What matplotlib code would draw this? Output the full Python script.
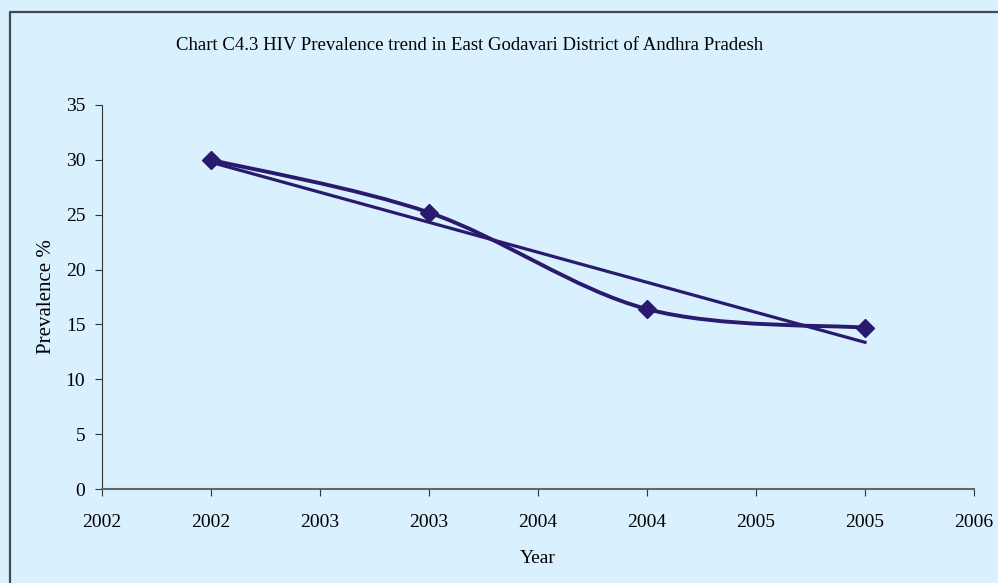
import numpy as np
import matplotlib
matplotlib.use('Agg')
import matplotlib.pyplot as plt
from matplotlib.path import Path
from matplotlib.patches import PathPatch
from matplotlib.lines import Line2D

plt.rcParams['font.family'] = 'Liberation Serif'
plt.rcParams['font.size'] = 12

# ── Data ──────────────────────────────────────────────────────────────────────
years = [2002, 2003, 2004, 2005]
prevalence = [30.0, 25.2, 16.4, 14.7]
xtick_pos = [2001.5, 2002, 2002.5, 2003, 2003.5, 2004, 2004.5, 2005, 2005.5]
xtick_labels = ['2002', '2002', '2003', '2003', '2004', '2004', '2005', '2005', '2006']
yticks = [0, 5, 10, 15, 20, 25, 30, 35]

title = 'Chart C4.3 HIV Prevalence trend in East Godavari District of Andhra Pradesh'
line_col = '#2a1a6e'
bg = '#d9f1ff'

fig = plt.figure(figsize=(9.98, 5.83), dpi=100, facecolor=bg)
ax = fig.add_axes([102/998, 1 - 489/583, (974 - 102)/998, (489 - 105)/583])
ax.set_facecolor(bg)

# smoothed line (Excel-style bezier through the points)
x = np.array(years, dtype=float)
y = np.array(prevalence, dtype=float)
verts = [(x[0], y[0])]
codes = [Path.MOVETO]
n = len(x)
for i in range(n - 1):
    p_prev = np.array([x[max(i - 1, 0)], y[max(i - 1, 0)]])
    p0 = np.array([x[i], y[i]])
    p1 = np.array([x[i + 1], y[i + 1]])
    p_next = np.array([x[min(i + 2, n - 1)], y[min(i + 2, n - 1)]])
    c1 = p0 + (p1 - p_prev) / 6
    c2 = p1 - (p_next - p0) / 6
    verts += [tuple(c1), tuple(c2), tuple(p1)]
    codes += [Path.CURVE4] * 3
ax.add_patch(PathPatch(Path(verts, codes), facecolor='none', edgecolor=line_col,
                       lw=2.8, capstyle='round', joinstyle='round', zorder=3))
ax.plot(years, prevalence, linestyle='none', marker='D', ms=9.5,
        color=line_col, zorder=4)

# linear trend
k, b = np.polyfit(x, y, 1)
ax.plot([x[0], x[-1]], [k * x[0] + b, k * x[-1] + b], color=line_col, lw=2.3, zorder=3)

ax.set_xlim(2001.5, 2005.5)
ax.set_ylim(0, 35)
ax.set_xticks(xtick_pos)
ax.set_xticklabels(xtick_labels)
ax.set_yticks(yticks)
for s in ['top', 'right']:
    ax.spines[s].set_visible(False)
ax.spines['left'].set_color('#333333')
ax.spines['bottom'].set_color('#666666')
ax.spines['bottom'].set_linewidth(1.5)
ax.tick_params(direction='out', length=5, color='#333333', labelsize=14)
ax.tick_params(axis='x', pad=13)
ax.tick_params(axis='y', pad=7)

ax.set_xlabel('Year', fontsize=14, labelpad=14)
ax.set_ylabel('Prevalence %', fontsize=15, labelpad=7)

fig.text(470/998, 1 - 45/583, title, fontsize=13.5, ha='center', va='center')

# outer chart border (left and top)
fig.add_artist(Line2D([10/998, 10/998, 1], [0, 1 - 11.5/583, 1 - 11.5/583],
                      transform=fig.transFigure, color='#444b50', lw=1.6))

plt.savefig('out.png', dpi=100, facecolor=bg)
